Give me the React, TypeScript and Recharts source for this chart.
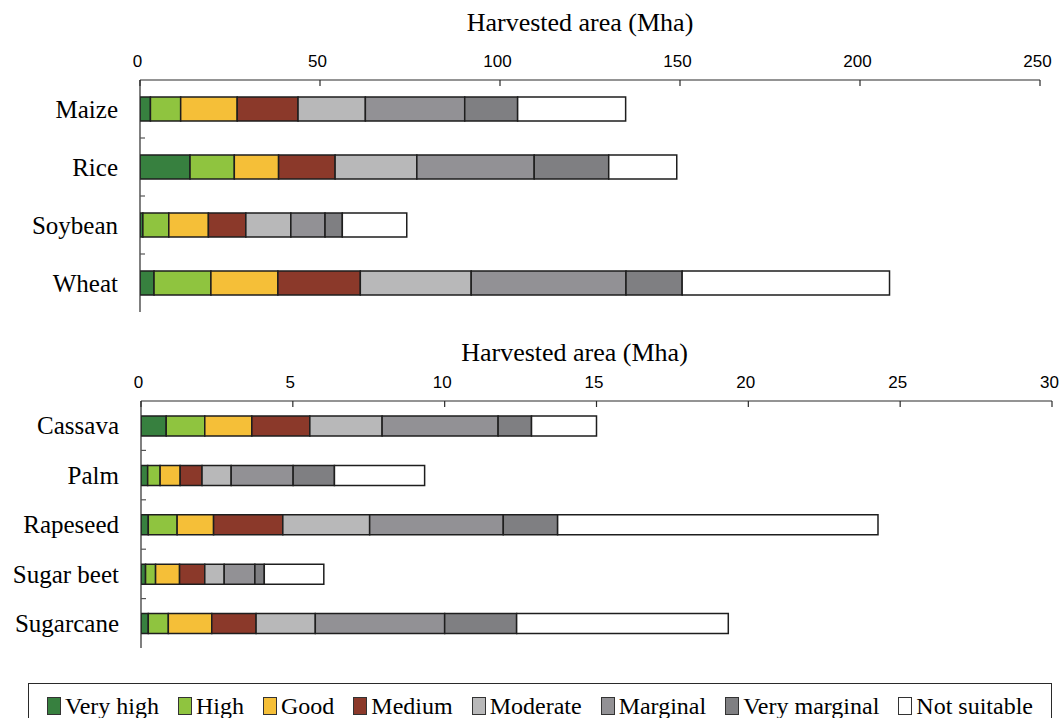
import React from 'react';
import { BarChart, Bar, XAxis, YAxis } from 'recharts';

const FONT = '"Liberation Serif", "Times New Roman", Times, serif';
const SANS = '"Liberation Sans", Arial, Helvetica, sans-serif';

// ---------- data ----------
const classNames = ['Very high', 'High', 'Good', 'Medium', 'Moderate', 'Marginal', 'Very marginal', 'Not suitable'];
const classKeys = ['vh', 'h', 'g', 'm', 'mod', 'marg', 'vm', 'ns'];
const classColors = ['#37803f', '#8fc43f', '#f5bf38', '#8b392a', '#b8b8b9', '#929195', '#7f7f82', '#ffffff'];

const topCrops = ['Maize', 'Rice', 'Soybean', 'Wheat'];
const topTicks = [0, 50, 100, 150, 200, 250];
const veryHighTop = [2.9, 13.9, 0.8, 3.9];
const highTop = [8.4, 12.3, 7.2, 15.8];
const goodTop = [15.7, 12.3, 11.0, 18.6];
const mediumTop = [16.9, 15.7, 10.4, 22.9];
const moderateTop = [18.7, 22.7, 12.5, 30.8];
const marginalTop = [27.6, 32.6, 9.5, 43.0];
const veryMarginalTop = [14.7, 20.7, 4.8, 15.6];
const notSuitableTop = [30.0, 18.9, 17.9, 57.6];

const bottomCrops = ['Cassava', 'Palm', 'Rapeseed', 'Sugar beet', 'Sugarcane'];
const bottomTicks = [0, 5, 10, 15, 20, 25, 30];
const veryHighBot = [0.83, 0.22, 0.24, 0.15, 0.24];
const highBot = [1.27, 0.41, 0.95, 0.33, 0.66];
const goodBot = [1.55, 0.66, 1.2, 0.79, 1.43];
const mediumBot = [1.91, 0.72, 2.28, 0.83, 1.46];
const moderateBot = [2.38, 0.96, 2.86, 0.64, 1.95];
const marginalBot = [3.82, 2.04, 4.4, 1.01, 4.26];
const veryMarginalBot = [1.1, 1.36, 1.79, 0.31, 2.37];
const notSuitableBot = [2.14, 2.97, 10.55, 1.96, 6.97];

const axisTitle = 'Harvested area (Mha)';

function buildRows(crops: string[], series: number[][]) {
  return crops.map((name, i) => {
    const row: any = { name };
    classKeys.forEach((k, j) => {
      row[k] = series[j][i];
    });
    return row;
  });
}

const topRows = buildRows(topCrops, [veryHighTop, highTop, goodTop, mediumTop, moderateTop, marginalTop, veryMarginalTop, notSuitableTop]);
const bottomRows = buildRows(bottomCrops, [veryHighBot, highBot, goodBot, mediumBot, moderateBot, marginalBot, veryMarginalBot, notSuitableBot]);

// ---------- helpers ----------
const LINE = '#2a2a2a';
const CAT_MARGIN = 22;

const TopTick = (props: any) => {
  const { x, y, payload } = props;
  return (
    <g>
      <line x1={x} x2={x} y1={y} y2={y + 6} stroke={LINE} strokeWidth={1.2} />
      <text x={x - 2.5} y={y - 13} textAnchor="middle" fontSize={17} fontFamily={SANS} fill="#000">
        {payload.value}
      </text>
    </g>
  );
};

// category label plus a short inward tick at the boundary below each band
const CatTick = (props: any) => {
  const { x, y, payload, index, visibleTicksCount } = props;
  const ax = x + CAT_MARGIN;
  const half = payload && typeof payload.offset === 'number' ? payload.offset : null;
  return (
    <g>
      <text x={x} y={y} dy="0.35em" textAnchor="end" fontSize={25} fontFamily={FONT} fill="#000">
        {payload.value}
      </text>
      {half !== null && index < visibleTicksCount - 1 ? (
        <line x1={ax} x2={ax + 5} y1={y + half} y2={y + half} stroke="#555" strokeWidth={1.2} />
      ) : null}
    </g>
  );
};

const AxisTitle = (props: any) => {
  const { viewBox, up, dx } = props;
  if (!viewBox) return null;
  const cx = viewBox.x + viewBox.width / 2 + dx;
  const cy = viewBox.y + viewBox.height - up;
  return (
    <text x={cx} y={cy} textAnchor="middle" fontSize={26} fontFamily={FONT} fill="#000">
      {axisTitle}
    </text>
  );
};

type PanelProps = {
  rows: any[];
  ticks: number[];
  max: number;
  height: number;
  axisHeight: number;
  yWidth: number;
  rightMargin: number;
  barSize: number;
  titleUp: number;
  titleDx: number;
};

const Panel = (p: PanelProps) => {
  return (
    <BarChart
      width={1059}
      height={p.height}
      data={p.rows}
      layout="vertical"
      margin={{ top: 0, right: p.rightMargin, bottom: 6, left: 0 }}
      style={{ fontFamily: FONT, overflow: 'visible' }}
    >
      <XAxis
        xAxisId="top"
        orientation="top"
        type="number"
        domain={[0, p.max]}
        ticks={p.ticks}
        interval={0}
        height={p.axisHeight}
        tickSize={0}
        tickMargin={0}
        tickLine={false}
        axisLine={{ stroke: LINE, strokeWidth: 1.2 }}
        tick={<TopTick />}
        allowDataOverflow
        label={<AxisTitle up={p.titleUp} dx={p.titleDx} />}
      />
      <XAxis
        xAxisId="bottom"
        orientation="bottom"
        type="number"
        domain={[0, 1]}
        height={0}
        tick={false}
        tickLine={false}
        axisLine={{ stroke: LINE, strokeWidth: 1.2 }}
        allowDataOverflow
      />
      <YAxis
        yAxisId="cat"
        type="category"
        dataKey="name"
        width={p.yWidth}
        interval={0}
        tickLine={false}
        tickSize={0}
        tickMargin={CAT_MARGIN}
        axisLine={{ stroke: LINE, strokeWidth: 1.2 }}
        tick={<CatTick />}
      />
      <YAxis
        yAxisId="right"
        orientation="right"
        type="number"
        domain={[0, 1]}
        mirror
        width={0}
        tick={false}
        tickLine={false}
        axisLine={{ stroke: LINE, strokeWidth: 1.2 }}
        allowDataOverflow
      />
      {classKeys.map((k, i) => (
        <Bar
          key={k}
          dataKey={k}
          name={classNames[i]}
          xAxisId="top"
          yAxisId="cat"
          stackId="s"
          fill={classColors[i]}
          stroke="#1e1e1e"
          strokeWidth={1.5}
          barSize={p.barSize}
          isAnimationActive={false}
        />
      ))}
    </BarChart>
  );
};

const LegendBox = () => (
  <div
    style={{
      position: 'absolute',
      left: 28,
      top: 683,
      width: 1024,
      height: 46,
      boxSizing: 'border-box',
      border: `1.5px solid ${LINE}`,
      display: 'flex',
      alignItems: 'center',
      paddingLeft: 18,
      fontFamily: FONT,
      fontSize: 24,
      color: '#000',
      whiteSpace: 'nowrap',
    }}
  >
    {classNames.map((name, i) => (
      <div key={name} style={{ display: 'flex', alignItems: 'center', marginRight: 19 }}>
        <div
          style={{
            width: 12,
            height: 16,
            background: classColors[i],
            border: '1.2px solid #333',
            marginRight: 4,
          }}
        />
        <span style={{ lineHeight: '24px' }}>{name}</span>
      </div>
    ))}
  </div>
);

export default function App() {
  return (
    <div style={{ position: 'absolute', left: 0, top: 0, width: 1059, height: 718, background: '#fff', overflow: 'hidden' }}>
      <div style={{ position: 'absolute', left: 0, top: 0 }}>
        <Panel
          rows={topRows}
          ticks={topTicks}
          max={250}
          height={318}
          axisHeight={80}
          yWidth={140}
          rightMargin={19}
          barSize={24}
          titleUp={49}
          titleDx={-10}
        />
      </div>
      <div style={{ position: 'absolute', left: 0, top: 320 }}>
        <Panel
          rows={bottomRows}
          ticks={bottomTicks}
          max={30}
          height={334}
          axisHeight={81}
          yWidth={141}
          rightMargin={7}
          barSize={20}
          titleUp={40}
          titleDx={-22}
        />
      </div>
      <LegendBox />
    </div>
  );
}
